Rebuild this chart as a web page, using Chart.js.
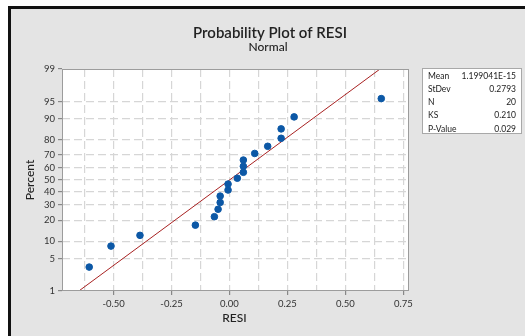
<!DOCTYPE html>
<html>
<head>
<meta charset="utf-8">
<script src="https://cdn.jsdelivr.net/npm/chart.js@4/dist/chart.umd.min.js"></script>
<style>
  html, body { margin: 0; padding: 0; background: #ffffff; }
  #panel { position: absolute; left: 8px; top: 6px; width: 517px; height: 330px;
           background: #e4e4e4; border-top: 3px solid #111; border-left: 3px solid #111; box-sizing: border-box; }
  #c { position: absolute; left: 0; top: 0; }
</style>
</head>
<body>
<div id="panel"></div>
<canvas id="c" width="525" height="336"></canvas>
<script>
// ---- data ----
const resi = [-0.605, -0.511, -0.386, -0.147, -0.065, -0.049, -0.040, -0.040, -0.006, -0.006,
              0.034, 0.060, 0.060, 0.060, 0.109, 0.165, 0.223, 0.223, 0.279, 0.655];
const percent = [3.4, 8.3, 12.3, 17.2, 22.1, 27.0, 31.9, 36.8, 41.7, 46.6,
                 51.5, 56.4, 61.3, 66.2, 71.1, 76.0, 80.9, 85.8, 90.7, 95.6];
const percentTicks = [1, 5, 10, 20, 30, 40, 50, 60, 70, 80, 90, 95, 99];
const xGrid = [-0.625, -0.5, -0.375, -0.25, -0.125, 0, 0.125, 0.25, 0.375, 0.5, 0.625, 0.75];
const xLabelTicks = [-0.5, -0.25, 0, 0.25, 0.5, 0.75];
const fitLinePercent = [1, 99];
const fitMean = 0;
const fitStDev = 0.2793;
const statLabels = ['Mean', 'StDev', 'N', 'KS', 'P-Value'];
const statValues = ['1.199041E-15', '0.2793', '20', '0.210', '0.029'];
const titleText = 'Probability Plot of RESI';
const subtitleText = 'Normal';
const xTitle = 'RESI';
const yTitle = 'Percent';

// inverse standard normal CDF (probability-paper scale)
function normInv(p) {
  const a = [-3.969683028665376e+01, 2.209460984245205e+02, -2.759285104469687e+02, 1.383577518672690e+02, -3.066479806614716e+01, 2.506628277459239e+00];
  const b = [-5.447609879822406e+01, 1.615858368580409e+02, -1.556989798598866e+02, 6.680131188771972e+01, -1.328068155288572e+01];
  const c = [-7.784894002430293e-03, -3.223964580411365e-01, -2.400758277161838e+00, -2.549732539343734e+00, 4.374664141464968e+00, 2.938163982698783e+00];
  const d = [7.784695709041462e-03, 3.224671290700398e-01, 2.445134137142996e+00, 3.754408661907416e+00];
  const pl = 0.02425, ph = 1 - pl;
  let q, r;
  if (p < pl) { q = Math.sqrt(-2 * Math.log(p));
    return (((((c[0]*q+c[1])*q+c[2])*q+c[3])*q+c[4])*q+c[5]) / ((((d[0]*q+d[1])*q+d[2])*q+d[3])*q+1); }
  if (p <= ph) { q = p - 0.5; r = q*q;
    return (((((a[0]*r+a[1])*r+a[2])*r+a[3])*r+a[4])*r+a[5])*q / (((((b[0]*r+b[1])*r+b[2])*r+b[3])*r+b[4])*r+1); }
  q = Math.sqrt(-2 * Math.log(1 - p));
  return -(((((c[0]*q+c[1])*q+c[2])*q+c[3])*q+c[4])*q+c[5]) / ((((d[0]*q+d[1])*q+d[2])*q+d[3])*q+1);
}
const z = pct => normInv(pct / 100);

const pointData = resi.map((v, i) => ({ x: v, y: z(percent[i]) }));
const lineData = fitLinePercent.map(p => ({ x: fitMean + fitStDev * z(p), y: z(p) }));

const FONT = 'Lato, "Open Sans", sans-serif';

const decor = {
  id: 'decor',
  beforeDraw(chart) {
    const { ctx, chartArea: a } = chart;
    ctx.save();
    ctx.fillStyle = '#ffffff';
    ctx.fillRect(a.left, a.top, a.right - a.left, a.bottom - a.top);
    ctx.restore();
  },
  afterDraw(chart) {
    const { ctx, chartArea: a } = chart;
    ctx.save();
    // frame
    ctx.strokeStyle = '#9c9c9c';
    ctx.lineWidth = 1;
    ctx.strokeRect(Math.round(a.left) + 0.5, Math.round(a.top) + 0.5, Math.round(a.right - a.left) - 1, Math.round(a.bottom - a.top) - 1);
    // titles
    ctx.fillStyle = '#222';
    ctx.textAlign = 'center';
    ctx.textBaseline = 'middle';
    ctx.font = '600 15px ' + FONT;
    ctx.fillText(titleText, 270, 33);
    ctx.font = '500 12px ' + FONT;
    ctx.fillText(subtitleText, 268, 47);
    // axis titles
    ctx.font = '500 12px ' + FONT;
    ctx.fillText(xTitle, (a.left + a.right) / 2 - 1, 318);
    ctx.save();
    ctx.translate(30, 180);
    ctx.rotate(-Math.PI / 2);
    ctx.fillText(yTitle, 0, 0);
    ctx.restore();
    // stats box
    const bx = 422, by = 68, bw = 100, bh = 66;
    ctx.fillStyle = '#ffffff';
    ctx.fillRect(bx, by, bw, bh);
    ctx.strokeStyle = '#a8a8a8';
    ctx.strokeRect(bx + 0.5, by + 0.5, bw - 1, bh - 1);
    ctx.fillStyle = '#222';
    ctx.font = '8.5px ' + FONT;
    statLabels.forEach((lab, i) => {
      const yy = 76 + i * 13.2;
      ctx.textAlign = 'left';
      ctx.fillText(lab, 428, yy);
      ctx.textAlign = 'right';
      ctx.fillText(statValues[i], 516, yy);
    });
    ctx.restore();
  }
};

new Chart(document.getElementById('c'), {
  type: 'scatter',
  data: {
    datasets: [
      { data: pointData, backgroundColor: '#0c58a6', borderColor: '#0c58a6', pointRadius: 3.3, pointHoverRadius: 3.3, order: 1 },
      { data: lineData, showLine: true, borderColor: '#a82222', borderWidth: 1, pointRadius: 0, fill: false, order: 2 }
    ]
  },
  options: {
    responsive: false,
    animation: false,
    devicePixelRatio: 1,
    layout: { padding: { top: 69, right: 116, left: 0, bottom: 0 } },
    plugins: { legend: { display: false }, title: { display: false }, tooltip: { enabled: false } },
    scales: {
      x: {
        type: 'linear',
        min: -0.7224, max: 0.7746,
        afterBuildTicks: s => { s.ticks = xGrid.map(v => ({ value: v })); },
        afterFit: s => { s.height = 45; },
        border: { display: false, dash: [8, 4] },
        grid: {
          color: '#d6d6d6', lineWidth: 1.2, drawTicks: true, tickLength: 4,
          tickColor: c => xLabelTicks.includes(c.tick.value) ? '#888' : 'rgba(0,0,0,0)'
        },
        ticks: {
          autoSkip: false, maxRotation: 0, padding: 3, color: '#333',
          font: { family: FONT, size: 9.5 },
          callback: v => xLabelTicks.includes(v) ? v.toFixed(2) : ''
        }
      },
      y: {
        type: 'linear',
        min: z(1), max: z(99),
        afterBuildTicks: s => { s.ticks = percentTicks.map(p => ({ value: z(p), pct: p })); },
        afterFit: s => { s.width = 62; },
        border: { display: false, dash: [8, 4] },
        grid: {
          color: c => (c.tick && (c.tick.pct === 1 || c.tick.pct === 99)) ? 'rgba(0,0,0,0)' : '#d6d6d6',
          lineWidth: 1.2, drawTicks: true, tickLength: 4, tickColor: '#888'
        },
        ticks: {
          autoSkip: false, padding: 3, color: '#333',
          font: { family: FONT, size: 9.5 },
          callback: function (v, i, t) { return String(t[i].pct); }
        }
      }
    }
  },
  plugins: [decor]
});
</script>
</body>
</html>
